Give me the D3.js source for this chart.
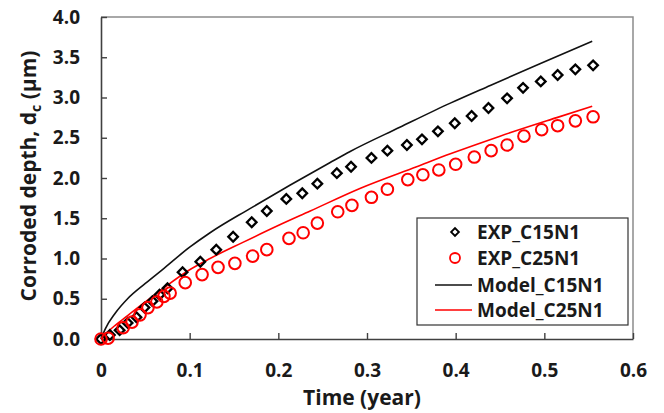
<!DOCTYPE html>
<html>
<head>
<meta charset="utf-8">
<script src="https://cdn.jsdelivr.net/npm/d3@7"></script>
<style>
  body { margin: 0; background: #fff; }
  svg { font-family: "Open Sans", Carlito, Calibri, Lato, sans-serif; font-weight: bold; }
</style>
</head>
<body>
<div id="chart"></div>
<script>
// values (time in years, depth in micrometres)
var expC15Time = [0, 0.010, 0.021, 0.030, 0.040, 0.049, 0.058, 0.066, 0.075, 0.092, 0.112, 0.130, 0.149, 0.170, 0.187, 0.209, 0.227, 0.244, 0.266, 0.282, 0.305, 0.323, 0.345, 0.362, 0.380, 0.399, 0.418, 0.437, 0.458, 0.476, 0.496, 0.515, 0.535, 0.555];
var expC15Depth = [0, 0.05, 0.11, 0.20, 0.27, 0.39, 0.47, 0.55, 0.63, 0.83, 0.96, 1.11, 1.27, 1.45, 1.59, 1.74, 1.81, 1.93, 2.06, 2.14, 2.25, 2.34, 2.41, 2.48, 2.58, 2.68, 2.77, 2.87, 2.99, 3.12, 3.20, 3.28, 3.35, 3.40];

var expC25Time = [0, 0.008, 0.025, 0.035, 0.044, 0.053, 0.063, 0.071, 0.078, 0.095, 0.114, 0.132, 0.151, 0.171, 0.187, 0.212, 0.228, 0.244, 0.267, 0.283, 0.305, 0.323, 0.346, 0.363, 0.381, 0.400, 0.421, 0.440, 0.458, 0.477, 0.497, 0.515, 0.535, 0.555];
var expC25Depth = [0, 0.01, 0.14, 0.21, 0.30, 0.39, 0.46, 0.53, 0.57, 0.70, 0.80, 0.89, 0.94, 1.03, 1.11, 1.25, 1.32, 1.44, 1.58, 1.66, 1.76, 1.86, 1.98, 2.04, 2.10, 2.17, 2.26, 2.34, 2.41, 2.52, 2.60, 2.65, 2.71, 2.76];

var modelC15Time = [0, 0.005, 0.016, 0.030, 0.050, 0.069, 0.100, 0.123, 0.168, 0.213, 0.258, 0.281, 0.337, 0.394, 0.439, 0.495, 0.554];
var modelC15Depth = [0, 0.13, 0.32, 0.50, 0.69, 0.86, 1.14, 1.32, 1.62, 1.91, 2.19, 2.33, 2.63, 2.93, 3.15, 3.42, 3.70];

var modelC25Time = [0, 0.005, 0.016, 0.030, 0.044, 0.069, 0.100, 0.123, 0.160, 0.198, 0.236, 0.292, 0.356, 0.394, 0.450, 0.514, 0.554];
var modelC25Depth = [0, 0.06, 0.17, 0.29, 0.41, 0.62, 0.86, 1.00, 1.20, 1.40, 1.59, 1.87, 2.14, 2.30, 2.52, 2.75, 2.89];

var xTicks = [0, 0.1, 0.2, 0.3, 0.4, 0.5, 0.6];
var xTickLabels = ["0", "0.1", "0.2", "0.3", "0.4", "0.5", "0.6"];
var yTicks = [0, 0.5, 1, 1.5, 2, 2.5, 3, 3.5, 4];
var yTickLabels = ["0.0", "0.5", "1.0", "1.5", "2.0", "2.5", "3.0", "3.5", "4.0"];
var legendNames = ["EXP_C15N1", "EXP_C25N1", "Model_C15N1", "Model_C25N1"];

var width = 664, height = 413;
var margin = { left: 101, right: 31, top: 17, bottom: 74 };

var svg = d3.select("#chart").append("svg")
  .attr("width", width)
  .attr("height", height);

var x = d3.scaleLinear().domain([0, 0.6]).range([margin.left, width - margin.right]);
var y = d3.scaleLinear().domain([0, 4]).range([height - margin.bottom, margin.top]);

function zip(a, b) {
  return a.map(function (v, i) { return [v, b[i]]; });
}

// plot frame: grey top/right, dark left/bottom
svg.append("path")
  .attr("d", "M" + x(0) + "," + y(4) + "H" + x(0.6) + "V" + y(0))
  .attr("fill", "none")
  .attr("stroke", "#8c8c8c")
  .attr("stroke-width", 1.5);

// axes with inward ticks
var xAxis = d3.axisBottom(x).tickValues(xTicks)
  .tickFormat(function (d, i) { return xTickLabels[i]; })
  .tickSizeInner(-6).tickSizeOuter(0).tickPadding(25);
var yAxis = d3.axisLeft(y).tickValues(yTicks)
  .tickFormat(function (d, i) { return yTickLabels[i]; })
  .tickSizeInner(-6).tickSizeOuter(0).tickPadding(21);

var gx = svg.append("g").attr("transform", "translate(0," + y(0) + ")").call(xAxis);
var gy = svg.append("g").attr("transform", "translate(" + x(0) + ",0)").call(yAxis);

[gx, gy].forEach(function (g) {
  g.select(".domain").attr("stroke", "#404040").attr("stroke-width", 1.6);
  g.selectAll(".tick line").attr("stroke", "#404040").attr("stroke-width", 1.4);
  g.selectAll(".tick text")
    .attr("fill", "#1a1a1a")
    .style("font-size", "19px")
    .style("font-weight", "bold")
    .style("font-family", "'Open Sans', Carlito, Calibri, sans-serif");
});

// model lines
var line = d3.line()
  .x(function (d) { return x(d[0]); })
  .y(function (d) { return y(d[1]); })
  .curve(d3.curveMonotoneX);

svg.append("path")
  .datum(zip(modelC15Time, modelC15Depth))
  .attr("d", line)
  .attr("fill", "none")
  .attr("stroke", "#111")
  .attr("stroke-width", 1.6);

svg.append("path")
  .datum(zip(modelC25Time, modelC25Depth))
  .attr("d", line)
  .attr("fill", "none")
  .attr("stroke", "#ff0000")
  .attr("stroke-width", 1.6);

// experimental points
var diamond = d3.symbol().type(d3.symbolSquare).size(46);

svg.append("g").selectAll("path")
  .data(zip(expC15Time, expC15Depth))
  .enter().append("path")
  .attr("d", diamond)
  .attr("transform", function (d) { return "translate(" + x(d[0]) + "," + y(d[1]) + ") rotate(45)"; })
  .attr("fill", "none")
  .attr("stroke", "#000")
  .attr("stroke-width", 2.3);

svg.append("g").selectAll("circle")
  .data(zip(expC25Time, expC25Depth))
  .enter().append("circle")
  .attr("cx", function (d) { return x(d[0]); })
  .attr("cy", function (d) { return y(d[1]); })
  .attr("r", 5.8)
  .attr("fill", "none")
  .attr("stroke", "#ff0000")
  .attr("stroke-width", 2);

// legend
var lg = svg.append("g").attr("transform", "translate(417,218)");
lg.append("rect")
  .attr("width", 211).attr("height", 107)
  .attr("fill", "#fff")
  .attr("stroke", "#333")
  .attr("stroke-width", 1.2);

var rowY = [14, 40, 67, 92];
lg.append("path")
  .attr("d", d3.symbol().type(d3.symbolSquare).size(30))
  .attr("transform", "translate(38," + rowY[0] + ") rotate(45)")
  .attr("fill", "none").attr("stroke", "#000").attr("stroke-width", 1.8);
lg.append("circle")
  .attr("cx", 38).attr("cy", rowY[1]).attr("r", 5)
  .attr("fill", "none").attr("stroke", "#ff0000").attr("stroke-width", 1.8);
lg.append("line")
  .attr("x1", 18).attr("x2", 55).attr("y1", rowY[2]).attr("y2", rowY[2])
  .attr("stroke", "#111").attr("stroke-width", 1.6);
lg.append("line")
  .attr("x1", 18).attr("x2", 55).attr("y1", rowY[3]).attr("y2", rowY[3])
  .attr("stroke", "#ff0000").attr("stroke-width", 1.6);

lg.selectAll("text.leg")
  .data(legendNames)
  .enter().append("text")
  .attr("class", "leg")
  .attr("x", 60)
  .attr("y", function (d, i) { return rowY[i]; })
  .attr("dy", "0.36em")
  .attr("fill", "#1a1a1a")
  .style("font-size", "19px")
  .text(function (d) { return d; });

// axis titles
svg.append("text")
  .attr("x", 362)
  .attr("y", 405)
  .attr("text-anchor", "middle")
  .attr("fill", "#1a1a1a")
  .style("font-size", "21px")
  .text("Time (year)");

var yt = svg.append("text")
  .attr("transform", "translate(36,176) rotate(-90)")
  .attr("text-anchor", "middle")
  .attr("fill", "#1a1a1a")
  .style("font-size", "21px");
yt.append("tspan").text("Corroded depth, d");
yt.append("tspan").attr("dy", 5).style("font-size", "14px").text("c");
yt.append("tspan").attr("dy", -5).text(" (\u03bcm)");
</script>
</body>
</html>
